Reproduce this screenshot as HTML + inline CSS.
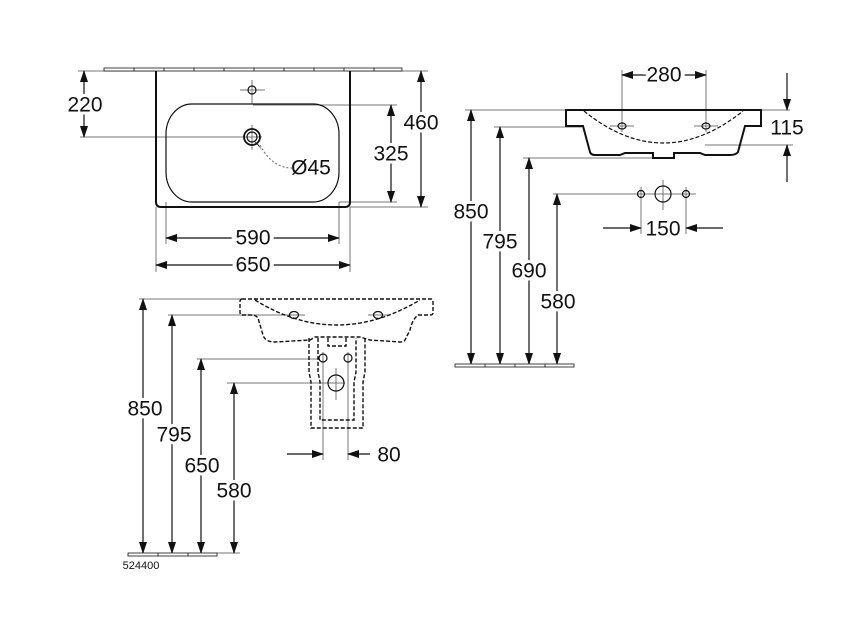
<!DOCTYPE html>
<html><head><style>body{margin:0;background:#fff}svg{display:block}text{font-family:"Liberation Sans",sans-serif;font-size:21px;fill:#111}</style></head><body>
<svg width="868" height="630" viewBox="0 0 868 630" xmlns="http://www.w3.org/2000/svg">
<defs>
<marker id="a" markerWidth="12" markerHeight="8" refX="11" refY="4" orient="auto-start-reverse" markerUnits="userSpaceOnUse"><path d="M0,0 L12,4 L0,8 Z" fill="#111"/></marker>
</defs>
<g stroke="#777" stroke-width="1" fill="none">
<line x1="78" y1="71" x2="156" y2="71"/><line x1="350" y1="71" x2="428" y2="71"/>
<line x1="80" y1="137" x2="262" y2="137"/>
<line x1="253" y1="105" x2="397" y2="105"/><line x1="339" y1="202" x2="397" y2="202"/>
<line x1="350" y1="207" x2="428" y2="207"/>
<line x1="156" y1="207" x2="156" y2="272"/><line x1="350" y1="207" x2="350" y2="272"/>
<line x1="166" y1="202" x2="166" y2="244"/><line x1="339" y1="202" x2="339" y2="244"/>
<line x1="252" y1="80" x2="252" y2="104"/><line x1="240" y1="90" x2="265" y2="90"/>
<line x1="252" y1="125" x2="252" y2="150"/>
<line x1="465" y1="110" x2="790" y2="110"/>
<line x1="494" y1="127" x2="582" y2="127"/>
<line x1="523" y1="158" x2="660" y2="158"/>
<line x1="553" y1="194" x2="640" y2="194"/>
<line x1="705" y1="145" x2="793" y2="145"/>
<line x1="622" y1="70" x2="622" y2="132"/><line x1="706" y1="70" x2="706" y2="132"/>
<line x1="641" y1="187" x2="641" y2="234"/><line x1="686" y1="187" x2="686" y2="234"/>
<line x1="663" y1="180" x2="663" y2="210"/><line x1="630" y1="194" x2="696" y2="194"/>
<line x1="610" y1="126" x2="634" y2="126"/><line x1="694" y1="126" x2="718" y2="126"/>
<line x1="139" y1="299" x2="240" y2="299"/>
<line x1="168" y1="315" x2="305" y2="315"/><line x1="368" y1="315" x2="390" y2="315"/>
<line x1="197" y1="359" x2="320" y2="359"/>
<line x1="227" y1="383" x2="345" y2="383"/>
<line x1="217" y1="553" x2="240" y2="553"/>
<line x1="323" y1="352" x2="323" y2="460"/><line x1="348" y1="352" x2="348" y2="460"/>
<line x1="336" y1="368" x2="336" y2="400"/>
</g>
<g stroke="#111" stroke-width="1.2" fill="none">
<line x1="84" y1="71" x2="84" y2="137" marker-start="url(#a)" marker-end="url(#a)"/>
<line x1="391" y1="105" x2="391" y2="202" marker-start="url(#a)" marker-end="url(#a)"/>
<line x1="421" y1="71" x2="421" y2="207" marker-start="url(#a)" marker-end="url(#a)"/>
<line x1="166" y1="238" x2="339" y2="238" marker-start="url(#a)" marker-end="url(#a)"/>
<line x1="156" y1="265" x2="350" y2="265" marker-start="url(#a)" marker-end="url(#a)"/>
<line x1="622" y1="75" x2="706" y2="75" marker-start="url(#a)" marker-end="url(#a)"/>
<line x1="787" y1="73" x2="787" y2="110" marker-end="url(#a)"/>
<line x1="787" y1="182" x2="787" y2="145" marker-end="url(#a)"/>
<line x1="471" y1="110" x2="471" y2="364" marker-start="url(#a)" marker-end="url(#a)"/>
<line x1="500" y1="127" x2="500" y2="364" marker-start="url(#a)" marker-end="url(#a)"/>
<line x1="529" y1="158" x2="529" y2="364" marker-start="url(#a)" marker-end="url(#a)"/>
<line x1="557" y1="194" x2="557" y2="364" marker-start="url(#a)" marker-end="url(#a)"/>
<line x1="603" y1="228" x2="641" y2="228" marker-end="url(#a)"/>
<line x1="723" y1="228" x2="686" y2="228" marker-end="url(#a)"/>
<line x1="143" y1="299" x2="143" y2="553" marker-start="url(#a)" marker-end="url(#a)"/>
<line x1="172" y1="315" x2="172" y2="553" marker-start="url(#a)" marker-end="url(#a)"/>
<line x1="201" y1="359" x2="201" y2="553" marker-start="url(#a)" marker-end="url(#a)"/>
<line x1="234" y1="383" x2="234" y2="553" marker-start="url(#a)" marker-end="url(#a)"/>
<line x1="287" y1="454" x2="323" y2="454" marker-end="url(#a)"/>
<line x1="370" y1="454" x2="348" y2="454" marker-end="url(#a)"/>
<path d="M156,71 L156,202 Q156,207 161,207 L345,207 Q350,207 350,202 L350,71" stroke-width="2"/>
<rect x="166" y="104" width="173" height="98" rx="26" ry="30"/>
<circle cx="252" cy="90" r="4"/>
<circle cx="252" cy="137" r="8" stroke-width="1.8"/><circle cx="252" cy="137" r="5"/>
<path d="M260,145 Q272,168 292,168" stroke-dasharray="2,2" stroke="#777"/>
<path d="M566,110 L761,110 L761,126 L745,126 L738,152 Q736,155 730,155 L705,155 L700,153 L674,153 L674,158 L653,158 L653,153 L625,153 L620,155 L595,155 Q591,155 590,152 L583,126 L566,126 Z" stroke-width="2"/>
<path d="M584,111 Q663,175 743,111" stroke-dasharray="4,2"/>
<ellipse cx="622" cy="126" rx="4" ry="3"/><ellipse cx="706" cy="126" rx="4" ry="3"/>
<circle cx="641" cy="194" r="3.5"/><circle cx="663" cy="194" r="8"/><circle cx="686" cy="194" r="3.5"/>
<g stroke-dasharray="4,2" stroke-width="1.4">
<path d="M242,299 L431,299 Q433,299 433,302 L433,313 Q433,315 430,315 L418,315 Q412,320 410,330 L405,340 Q404,342 400,342 L370,340 L360,337 L330,337 L315,337 L310,340 L275,342 Q265,342 263,335 L258,318 Q256,315 250,315 L242,315 Q240,315 240,312 L240,302 Q240,299 242,299 Z"/>
<path d="M255,300 Q336,350 420,300"/>
<path d="M309,338 L309,372 L311,382 L311,428 L363,428 L363,382 L365,372 L365,338"/>
<path d="M318,338 L318,372 L320,382 L320,420 L354,420 L354,382 L356,372 L356,338"/>
<path d="M328,338 L328,346 L346,346 L346,338"/>
</g>
<ellipse cx="294" cy="315" rx="4.5" ry="3.5"/><ellipse cx="378" cy="315" rx="4.5" ry="3.5"/>
<circle cx="323" cy="358" r="4"/><circle cx="348" cy="358" r="4"/><circle cx="336" cy="383" r="8"/>
</g>
<g fill="#fff" stroke="#111" stroke-width="0.8">
<rect x="104" y="68" width="298" height="3"/>
<rect x="455" y="364" width="119" height="3"/>
<rect x="128" y="553" width="89" height="3"/>
</g>
<g stroke="#111" stroke-width="0.8">
<line x1="134" y1="68" x2="134" y2="71"/><line x1="164" y1="68" x2="164" y2="71"/><line x1="194" y1="68" x2="194" y2="71"/><line x1="224" y1="68" x2="224" y2="71"/><line x1="254" y1="68" x2="254" y2="71"/><line x1="284" y1="68" x2="284" y2="71"/><line x1="314" y1="68" x2="314" y2="71"/><line x1="344" y1="68" x2="344" y2="71"/><line x1="374" y1="68" x2="374" y2="71"/>
<line x1="485" y1="364" x2="485" y2="367"/><line x1="515" y1="364" x2="515" y2="367"/><line x1="545" y1="364" x2="545" y2="367"/>
<line x1="158" y1="553" x2="158" y2="556"/><line x1="188" y1="553" x2="188" y2="556"/>
</g>
<path d="M253,140 L262,150 L258,144 Z" fill="#111"/>
<g text-anchor="middle" dominant-baseline="central">
<text x="85" y="105" style="paint-order:stroke" stroke="#fff" stroke-width="6">220</text>
<text x="391" y="154" style="paint-order:stroke" stroke="#fff" stroke-width="6">325</text>
<text x="421" y="123" style="paint-order:stroke" stroke="#fff" stroke-width="6">460</text>
<text x="311" y="168">Ø45</text>
<text x="253" y="238" style="paint-order:stroke" stroke="#fff" stroke-width="8">590</text>
<text x="253" y="265" style="paint-order:stroke" stroke="#fff" stroke-width="8">650</text>
<text x="664" y="75" style="paint-order:stroke" stroke="#fff" stroke-width="8">280</text>
<text x="787" y="128" style="paint-order:stroke" stroke="#fff" stroke-width="6">115</text>
<text x="663" y="229" style="paint-order:stroke" stroke="#fff" stroke-width="8">150</text>
<text x="471" y="212" style="paint-order:stroke" stroke="#fff" stroke-width="6">850</text>
<text x="500" y="242" style="paint-order:stroke" stroke="#fff" stroke-width="6">795</text>
<text x="529" y="271" style="paint-order:stroke" stroke="#fff" stroke-width="6">690</text>
<text x="558" y="302" style="paint-order:stroke" stroke="#fff" stroke-width="6">580</text>
<text x="145" y="409" style="paint-order:stroke" stroke="#fff" stroke-width="6">850</text>
<text x="174" y="435" style="paint-order:stroke" stroke="#fff" stroke-width="6">795</text>
<text x="202" y="466" style="paint-order:stroke" stroke="#fff" stroke-width="6">650</text>
<text x="234" y="491" style="paint-order:stroke" stroke="#fff" stroke-width="6">580</text>
<text x="389" y="455">80</text>
<text x="141" y="566" style="font-size:11px">524400</text>
</g>
</svg>
</body></html>
